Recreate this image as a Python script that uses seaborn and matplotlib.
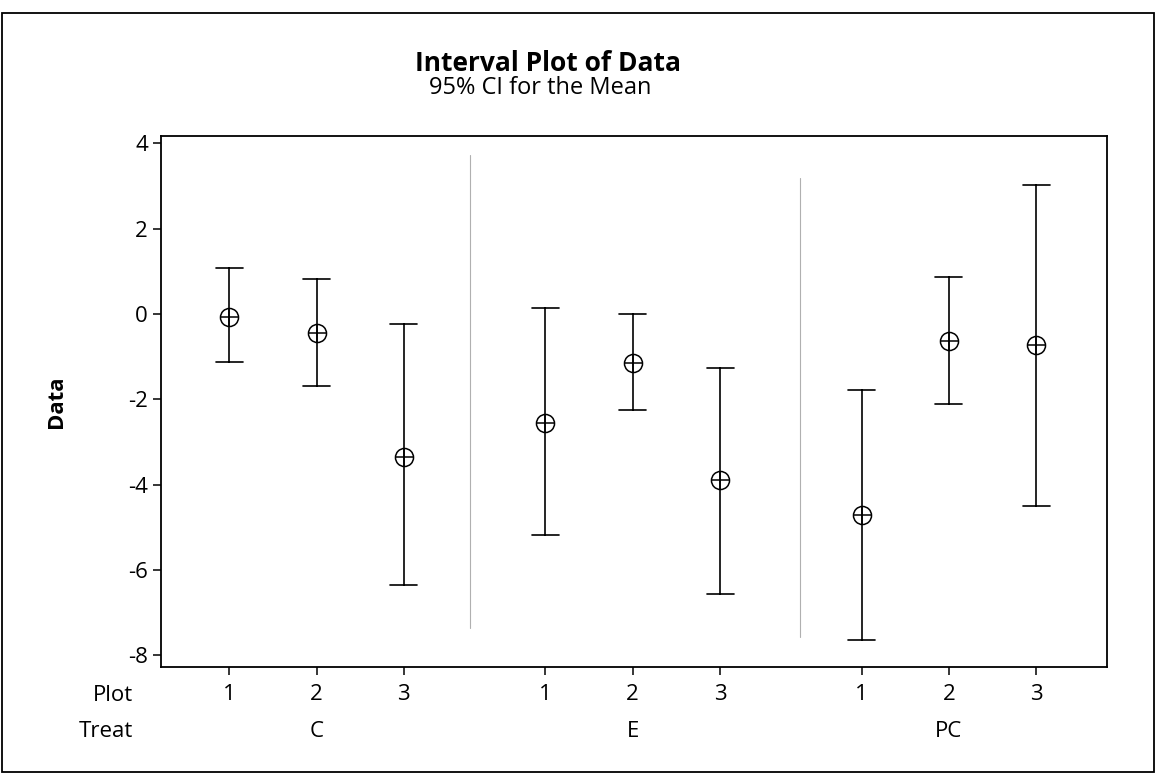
import matplotlib
matplotlib.use("Agg")
import matplotlib.pyplot as plt
from matplotlib.patches import Rectangle
import seaborn as sns
import pandas as pd

# --- data (95% CI for the mean) ---
treats = ["C", "E", "PC"]
plots = ["1", "2", "3"]
means = [-0.07, -0.45, -3.35, -2.55, -1.14, -3.90, -4.70, -0.64, -0.72]
lower = [-1.12, -1.68, -6.35, -5.18, -2.26, -6.55, -7.63, -2.12, -4.50]
upper = [1.07, 0.83, -0.24, 0.13, -0.01, -1.27, -1.79, 0.87, 3.03]

GAP = 0.62  # extra space between treatment groups

sns.set_style("white")
plt.rcParams["font.family"] = ["Open Sans", "DejaVu Sans"]
plt.rcParams["axes.unicode_minus"] = False
plt.rcParams["text.color"] = "black"

# long table: each cell holds lower / mean / upper, median -> mean, min/max -> CI
rows = []
k = 0
for ti, t in enumerate(treats):
    for pi, p in enumerate(plots):
        pos = ti * (len(plots) + GAP) + pi
        for v in (lower[k], means[k], upper[k]):
            rows.append({"pos": pos, "treat": t, "plot": p, "value": v})
        k += 1
df = pd.DataFrame(rows)
positions = sorted(df["pos"].unique())

fig = plt.figure(figsize=(11.56, 7.79), dpi=100)
ax = fig.add_axes([0.1393, 0.1438, 0.8183, 0.6816])

sns.pointplot(data=df, x="pos", y="value", native_scale=True,
              estimator="median", errorbar=lambda v: (v.min(), v.max()),
              capsize=0.31, color="black", linestyle="none", markers="o",
              markersize=13, markerfacecolor="none", markeredgewidth=1.1,
              err_kws={"linewidth": 1.2}, ax=ax)
sns.pointplot(data=df, x="pos", y="value", native_scale=True,
              estimator="median", errorbar=None, color="black",
              linestyle="none", markers="+", markersize=13,
              markeredgewidth=1.1, ax=ax)

# pencil marks between the groups on the scanned page
mid1 = (positions[2] + positions[3]) / 2
mid2 = (positions[5] + positions[6]) / 2
ax.axvline(mid1 - 0.05, ymin=0.073, ymax=0.964, color="#b0b0b0", lw=0.8)
ax.axvline(mid2 + 0.1, ymin=0.056, ymax=0.921, color="#b0b0b0", lw=0.8)

ax.set_xlim(positions[0] - 0.78, positions[-1] + 0.81)
ax.set_ylim(-8.27, 4.17)
ax.set_yticks([4, 2, 0, -2, -4, -6, -8])
ax.set_xticks(positions)
ax.set_xticklabels(plots * len(treats))
ax.set_xlabel("")
ax.set_ylabel("Data", fontsize=16, fontweight="bold", labelpad=44,
              color="black")

for s in ax.spines.values():
    s.set_color("black")
    s.set_linewidth(1.3)
ax.tick_params(axis="both", direction="out", length=6, width=1.1,
               labelsize=16, color="black", labelcolor="black", left=True,
               bottom=True)
ax.tick_params(axis="x", pad=6)

# second header row (Treat) and the row names
trans = ax.get_xaxis_transform()
for ti, t in enumerate(treats):
    ax.text(positions[ti * 3 + 1], -0.122, t, transform=trans,
            ha="center", va="center", fontsize=16)
ax.text(-0.03, -0.053, "Plot", transform=ax.transAxes, ha="right",
        va="center", fontsize=16)
ax.text(-0.03, -0.122, "Treat", transform=ax.transAxes, ha="right",
        va="center", fontsize=16)

fig.text(0.474, 0.919, "Interval Plot of Data", ha="center", va="center",
         fontsize=19, fontweight="bold")
fig.text(0.467, 0.887, "95% CI for the Mean", ha="center", va="center",
         fontsize=17)

# outer frame of the graph window
fig.patches.append(Rectangle((0.002, 0.009), 0.996, 0.974,
                             transform=fig.transFigure, fill=False,
                             edgecolor="black", linewidth=1.3))

fig.savefig("out.png", dpi=100)
